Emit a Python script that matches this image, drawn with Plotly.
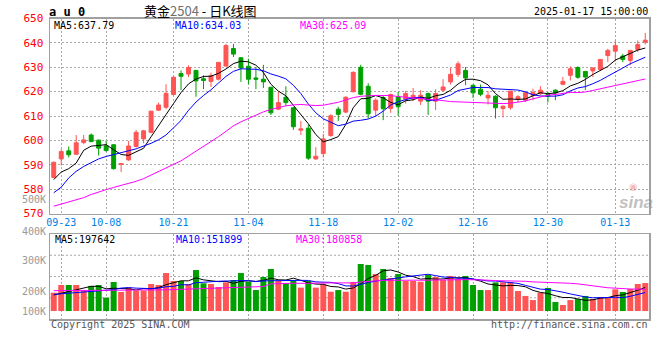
import plotly.graph_objects as go

# ---------------- data ----------------
dates = ["09-20", "09-23", "09-24", "09-25", "09-26", "09-27", "09-30",
         "10-08", "10-09", "10-10", "10-11", "10-14", "10-15", "10-16", "10-17", "10-18",
         "10-21", "10-22", "10-23", "10-24", "10-25", "10-28", "10-29", "10-30", "10-31", "11-01",
         "11-04", "11-05", "11-06", "11-07", "11-08", "11-11", "11-12", "11-13", "11-14", "11-15",
         "11-18", "11-19", "11-20", "11-21", "11-22", "11-25", "11-26", "11-27", "11-28", "11-29",
         "12-02", "12-03", "12-04", "12-05", "12-06", "12-09", "12-10", "12-11", "12-12", "12-13",
         "12-16", "12-17", "12-18", "12-19", "12-20", "12-23", "12-24", "12-25", "12-26", "12-27",
         "12-30", "12-31", "01-02", "01-03", "01-06", "01-07", "01-08", "01-09", "01-10",
         "01-13", "01-14", "01-15", "01-16", "01-17"]

tick_dates = ["09-23", "10-08", "10-21", "11-04", "11-18", "12-02", "12-16", "12-30", "01-13"]

opens = [584.8, 592.4, 595.7, 594.3, 599.1, 602.2, 600.1, 597.8, 598.2, 590.2,
         592.0, 597.5, 600.6, 603.3, 612.4, 613.6, 618.8, 627.4, 627.2, 628.7,
         625.3, 624.2, 625.1, 630.5, 637.7, 633.9, 630.4, 625.6, 625.1, 621.8,
         612.8, 617.7, 613.4, 604.2, 605.0, 592.4, 594.6, 602.0, 612.8, 611.6,
         620.0, 630.0, 622.2, 612.4, 617.6, 613.1, 617.9, 616.9, 617.2, 616.1,
         619.2, 616.1, 620.6, 624.0, 627.1, 628.7, 622.6, 621.0, 617.4, 618.1,
         613.1, 613.4, 617.0, 616.5, 618.5, 619.2, 618.8, 620.6, 623.0, 626.7,
         629.9, 628.3, 628.5, 629.1, 634.8, 636.6, 634.6, 632.8, 637.3, 640.3]

highs = [591.3, 596.4, 597.5, 602.2, 602.2, 602.8, 600.3, 599.9, 598.4, 590.7,
         599.8, 604.3, 604.3, 612.0, 615.5, 623.0, 626.1, 628.7, 630.8, 628.8,
         626.7, 627.8, 632.0, 639.6, 639.6, 634.2, 633.5, 630.1, 631.0, 621.8,
         619.9, 622.2, 613.4, 608.0, 606.3, 597.2, 602.6, 610.7, 613.8, 618.1,
         628.3, 631.0, 623.4, 617.2, 618.5, 619.2, 619.9, 620.3, 621.5, 620.6,
         619.6, 621.0, 625.1, 629.7, 632.4, 630.1, 622.9, 622.9, 620.2, 618.5,
         614.4, 620.2, 618.5, 620.2, 621.2, 622.2, 619.9, 621.0, 626.0, 630.4,
         630.4, 628.3, 629.9, 633.2, 637.6, 641.0, 635.5, 637.1, 641.0, 644.1]

lows = [584.5, 589.7, 593.0, 594.1, 598.4, 599.2, 593.8, 595.4, 588.0, 587.0,
        591.6, 597.1, 598.8, 602.9, 612.0, 612.8, 618.5, 620.6, 626.0, 617.9,
        621.0, 621.9, 624.6, 630.1, 634.2, 624.0, 623.0, 621.0, 621.5, 610.4,
        612.4, 614.2, 604.3, 602.2, 592.0, 592.0, 593.0, 601.5, 607.9, 611.1,
        619.6, 618.5, 609.0, 609.7, 608.3, 611.3, 610.1, 615.1, 616.1, 614.5,
        610.4, 612.4, 619.9, 622.9, 626.0, 622.6, 617.4, 618.1, 614.7, 609.0,
        609.4, 612.6, 615.7, 615.7, 616.5, 618.5, 615.5, 616.5, 622.6, 624.6,
        625.3, 620.6, 626.0, 628.7, 632.1, 632.4, 632.1, 630.8, 636.2, 639.3]

closes = [591.0, 595.4, 594.1, 599.0, 600.2, 599.5, 596.8, 595.8, 588.4, 590.5,
          597.7, 603.3, 603.9, 612.0, 614.5, 619.3, 625.9, 626.3, 629.9, 624.4,
          624.6, 626.5, 632.0, 638.9, 635.4, 629.7, 625.1, 625.1, 624.0, 611.3,
          615.5, 615.5, 605.6, 604.7, 592.7, 593.5, 600.6, 610.1, 610.7, 617.7,
          627.9, 618.9, 610.9, 616.5, 613.0, 618.8, 613.8, 619.2, 618.5, 618.5,
          616.1, 619.2, 621.9, 627.1, 631.4, 625.6, 619.5, 618.9, 618.5, 613.4,
          614.0, 620.2, 617.9, 619.5, 619.6, 620.6, 618.1, 619.5, 624.2, 629.4,
          625.9, 626.0, 629.7, 633.2, 636.9, 638.9, 633.2, 636.9, 639.3, 641.1]

# moving-average values before enough in-window history exists
ma5_head = [583.9, 587.0, 588.4, 590.7]
ma10_head = [578.5, 580.8, 584.6, 587.3, 589.3, 591.0, 592.4, 593.4, 594.1]
ma30_head = [573.0, 573.9, 574.8, 575.6, 576.5, 577.8, 578.9, 579.8, 580.7, 581.5,
             582.3, 583.2, 584.3, 585.8, 587.2, 588.5, 590.0, 591.6, 593.6, 595.5,
             597.5, 599.5, 601.5, 603.7, 606.0, 607.6, 609.0, 610.3, 611.7]

volumes = [152, 216, 216, 216, 169, 208, 216, 111, 241, 158,
           194, 169, 169, 224, 216, 315, 249, 249, 224, 340,
           230, 224, 199, 238, 257, 315, 243, 174, 282, 349,
           249, 232, 249, 194, 249, 194, 221, 160, 174, 160,
           241, 390, 382, 307, 349, 274, 307, 249, 249, 243,
           299, 282, 257, 291, 266, 291, 216, 174, 174, 238,
           238, 238, 166, 125, 91, 152, 191, 75, 50, 91,
           100, 125, 100, 116, 116, 180, 158, 183, 224, 232]
volumes = [v * 1000 for v in volumes]

vma5_head = [133000, 147000, 166000, 180000]
vma10_head = [138000, 143000, 149000, 155000, 160000, 163000, 166000, 169000, 177000]
vma30_head = [169000, 169000, 169000, 169000, 169000, 170000, 170000, 171000, 171000, 172000,
              173000, 173000, 174000, 174000, 175000, 176000, 178000, 179000, 181000, 183000,
              185000, 187000, 189000, 192000, 194000, 197000, 199000, 201000, 203000]

price_ticks = [570, 580, 590, 600, 610, 620, 630, 640, 650]
vol_labels = ["500K", "400K", "300K", "200K", "100K"]

title_code = "a u 0"
stamp = "2025-01-17 15:00:00"
ma_price_text = ["MA5:637.79", "MA10:634.03", "MA30:625.09"]
ma_vol_text = ["MA5:197642", "MA10:151899", "MA30:180858"]


def moving_avg(vals, n, head):
    out = list(head)
    for i in range(n - 1, len(vals)):
        out.append(sum(vals[i - n + 1:i + 1]) / n)
    return out


# ---------------- style ----------------
W, H = 660, 360
RED = "#FF5555"
GREEN = "#00A000"
GRID = "#A8A8A8"
FRAME = "#A0A0A0"
MONO = "DejaVu Sans Mono"
px = lambda x: x / W
py = lambda y: 1 - y / H

idx = list(range(len(dates)))
tickvals = [dates.index(d) for d in tick_dates]

ma5 = moving_avg(closes, 5, ma5_head)
ma10 = moving_avg(closes, 10, ma10_head)
ma30 = moving_avg(closes, 30, ma30_head)
vma5 = moving_avg(volumes, 5, vma5_head)
vma10 = moving_avg(volumes, 10, vma10_head)
vma30 = moving_avg(volumes, 30, vma30_head)

fig = go.Figure()

fig.add_trace(go.Candlestick(
    x=idx, open=opens, high=highs, low=lows, close=closes,
    increasing=dict(line=dict(color=RED, width=1), fillcolor=RED),
    decreasing=dict(line=dict(color=GREEN, width=1), fillcolor=GREEN),
    whiskerwidth=0, hoverinfo="skip", showlegend=False,
    xaxis="x", yaxis="y"))

for series, col in [(ma5, "black"), (ma10, "#0000FF"), (ma30, "#FF00FF")]:
    fig.add_trace(go.Scatter(x=idx, y=series, mode="lines",
                             line=dict(color=col, width=1),
                             hoverinfo="skip", showlegend=False,
                             xaxis="x", yaxis="y"))

bar_colors = [RED if c >= o else GREEN for o, c in zip(opens, closes)]
fig.add_trace(go.Bar(x=idx, y=volumes, marker=dict(color=bar_colors, line=dict(width=0)),
                     hoverinfo="skip", showlegend=False, xaxis="x2", yaxis="y2"))

for series, col in [(vma5, "black"), (vma10, "#0000FF"), (vma30, "#FF00FF")]:
    fig.add_trace(go.Scatter(x=idx, y=series, mode="lines",
                             line=dict(color=col, width=1),
                             hoverinfo="skip", showlegend=False,
                             xaxis="x2", yaxis="y2"))

x_dom = [px(50), px(649)]
x_range = [-0.5, len(dates) - 0.5]
common_x = dict(domain=x_dom, range=x_range, tickvals=tickvals, ticktext=tick_dates,
                showgrid=True, gridcolor=GRID, griddash="2px,2px", gridwidth=1,
                showline=True, linecolor=FRAME, linewidth=1.5, mirror=True,
                zeroline=False, ticks="", fixedrange=True, automargin=False)

fig.update_layout(
    width=W, height=H, margin=dict(l=0, r=0, t=0, b=0, autoexpand=False),
    paper_bgcolor="white", plot_bgcolor="white",
    bargap=0.2, boxgap=0.25,
    xaxis=dict(common_x, anchor="y", rangeslider=dict(visible=False),
               tickfont=dict(family=MONO, size=10, color="#0080E8"),
               ticklabelstandoff=-1),
    yaxis=dict(domain=[py(213.5), py(18.5)], range=[570, 650], anchor="x",
               tickvals=price_ticks, ticktext=[str(t) for t in price_ticks],
               tickfont=dict(family=MONO, size=11, color="#FF0000"),
               showgrid=True, gridcolor=GRID, griddash="2px,2px", gridwidth=1,
               showline=True, linecolor=FRAME, linewidth=1.5, mirror=True,
               zeroline=False, ticks="", ticklabelstandoff=3, automargin=False,
               fixedrange=True),
    xaxis2=dict(common_x, anchor="y2", showticklabels=False),
    yaxis2=dict(domain=[py(319), py(234)], range=[-66400, 639100], anchor="x2",
                showticklabels=False, showgrid=False,
                showline=True, linecolor=FRAME, linewidth=1.5, mirror=True,
                zeroline=False, ticks="", automargin=False, fixedrange=True),
)

# volume panel horizontal grid lines
for f in (0.25, 0.5, 0.75):
    fig.add_shape(type="line", xref="x2 domain", yref="y2 domain", x0=0, x1=1, y0=f, y1=f,
                  line=dict(color=GRID, width=1, dash="2px,2px"), layer="below")

ann = []


def text(x, y, s, color="black", size=10, anchor="left", family=MONO, **kw):
    ann.append(dict(x=px(x), y=py(y), xref="paper", yref="paper", text=s, showarrow=False,
                    xanchor=anchor, yanchor="middle", borderpad=0,
                    font=dict(family=family, size=size, color=color), **kw))


text(48, 12, "<b>" + title_code + "</b>", size=12)
text(200, 10.5, "黄金<span style='color:#707070'>2504</span> - 日K线图", size=13,
     anchor="center", family="Noto Sans CJK SC")
text(649, 12, stamp, anchor="right")

text(53, 25.5, ma_price_text[0], color="black")
text(174, 25.5, ma_price_text[1], color="#0000FF")
text(299, 25.5, ma_price_text[2], color="#FF00FF")

text(54, 239, ma_vol_text[0], color="black")
text(175, 239, ma_vol_text[1], color="#0000FF")
text(295, 239, ma_vol_text[2], color="#FF00FF")

for lab, yy in zip(vol_labels, [199.5, 231, 260, 291, 311]):
    text(47, yy, lab, color="#999999", size=10, anchor="right")

text(50, 324, "Copyright 2025 SINA.COM", color="#555555")
text(649, 324, "http://finance.sina.com.cn", color="#555555", anchor="right")

# sina watermark
text(633, 186, "◉", color="rgba(235,120,120,0.5)", size=10, anchor="center", family="DejaVu Sans")
text(636, 202, "<b><i>sina</i></b>", color="rgba(150,150,150,0.6)", size=17,
     anchor="center", family="Liberation Sans")

fig.update_layout(annotations=ann)

fig.write_html("out.html", config={"displayModeBar": False, "staticPlot": True},
               post_script="document.body.style.margin='0px';")
